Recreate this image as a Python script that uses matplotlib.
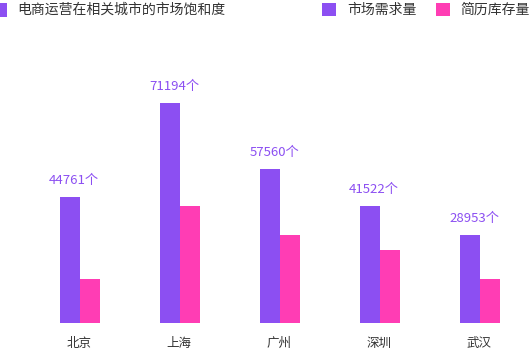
import matplotlib
matplotlib.use("Agg")
import matplotlib.pyplot as plt
from matplotlib.patches import Rectangle

plt.rcParams['font.family'] = ['Noto Sans CJK SC', 'DejaVu Sans']

cities = ["北京", "上海", "广州", "深圳", "武汉"]
demand = [430, 750, 525, 400, 300]
resume = [150, 400, 300, 250, 150]
demand_labels = ["44761个", "71194个", "57560个", "41522个", "28953个"]
title = "电商运营在相关城市的市场饱和度"
legend_names = ["市场需求量", "简历库存量"]

purple = "#8C4FF2"
pink = "#FF3DB4"

W, H = 531, 351
fig = plt.figure(figsize=(W / 100, H / 100), dpi=100)

base_px = 323
top_px = 50
scale = 220 / 750  # px per unit
ymax = (base_px - top_px) / scale
ax = fig.add_axes([30 / W, (H - base_px) / H, 500 / W, (base_px - top_px) / H])
ax.set_xlim(-0.5, 4.5)
ax.set_ylim(0, ymax)
ax.axis("off")

x = list(range(len(cities)))
bw = 0.2
ax.bar([i - bw / 2 for i in x], demand, width=bw, color=purple, linewidth=0)
ax.bar([i + bw / 2 for i in x], resume, width=bw, color=pink, linewidth=0)

for i, (v, lab) in enumerate(zip(demand, demand_labels)):
    ax.annotate(lab, (i - bw / 2, v), xytext=(3, 7), textcoords="offset points",
                ha="center", va="bottom", color=purple, fontsize=9.5)
    ax.annotate(cities[i], (i, 0), xytext=(-1, -15), textcoords="offset points",
                ha="center", va="center", color="#333333", fontsize=9)

# title with marker
fig.patches.append(Rectangle((0, (H - 17) / H), 7 / W, 14 / H,
                             transform=fig.transFigure, color=purple, linewidth=0))
fig.text(17 / W, (H - 9.5) / H, title, ha="left", va="center", fontsize=10, color="#333333")

# legend
fig.patches.append(Rectangle((322 / W, (H - 16) / H), 14 / W, 13 / H,
                             transform=fig.transFigure, color=purple, linewidth=0))
fig.text(347 / W, (H - 9.5) / H, legend_names[0], ha="left", va="center", fontsize=10, color="#333333")
fig.patches.append(Rectangle((436 / W, (H - 16) / H), 14 / W, 13 / H,
                             transform=fig.transFigure, color=pink, linewidth=0))
fig.text(460 / W, (H - 9.5) / H, legend_names[1], ha="left", va="center", fontsize=10, color="#333333")

fig.savefig("out.png", dpi=100)
